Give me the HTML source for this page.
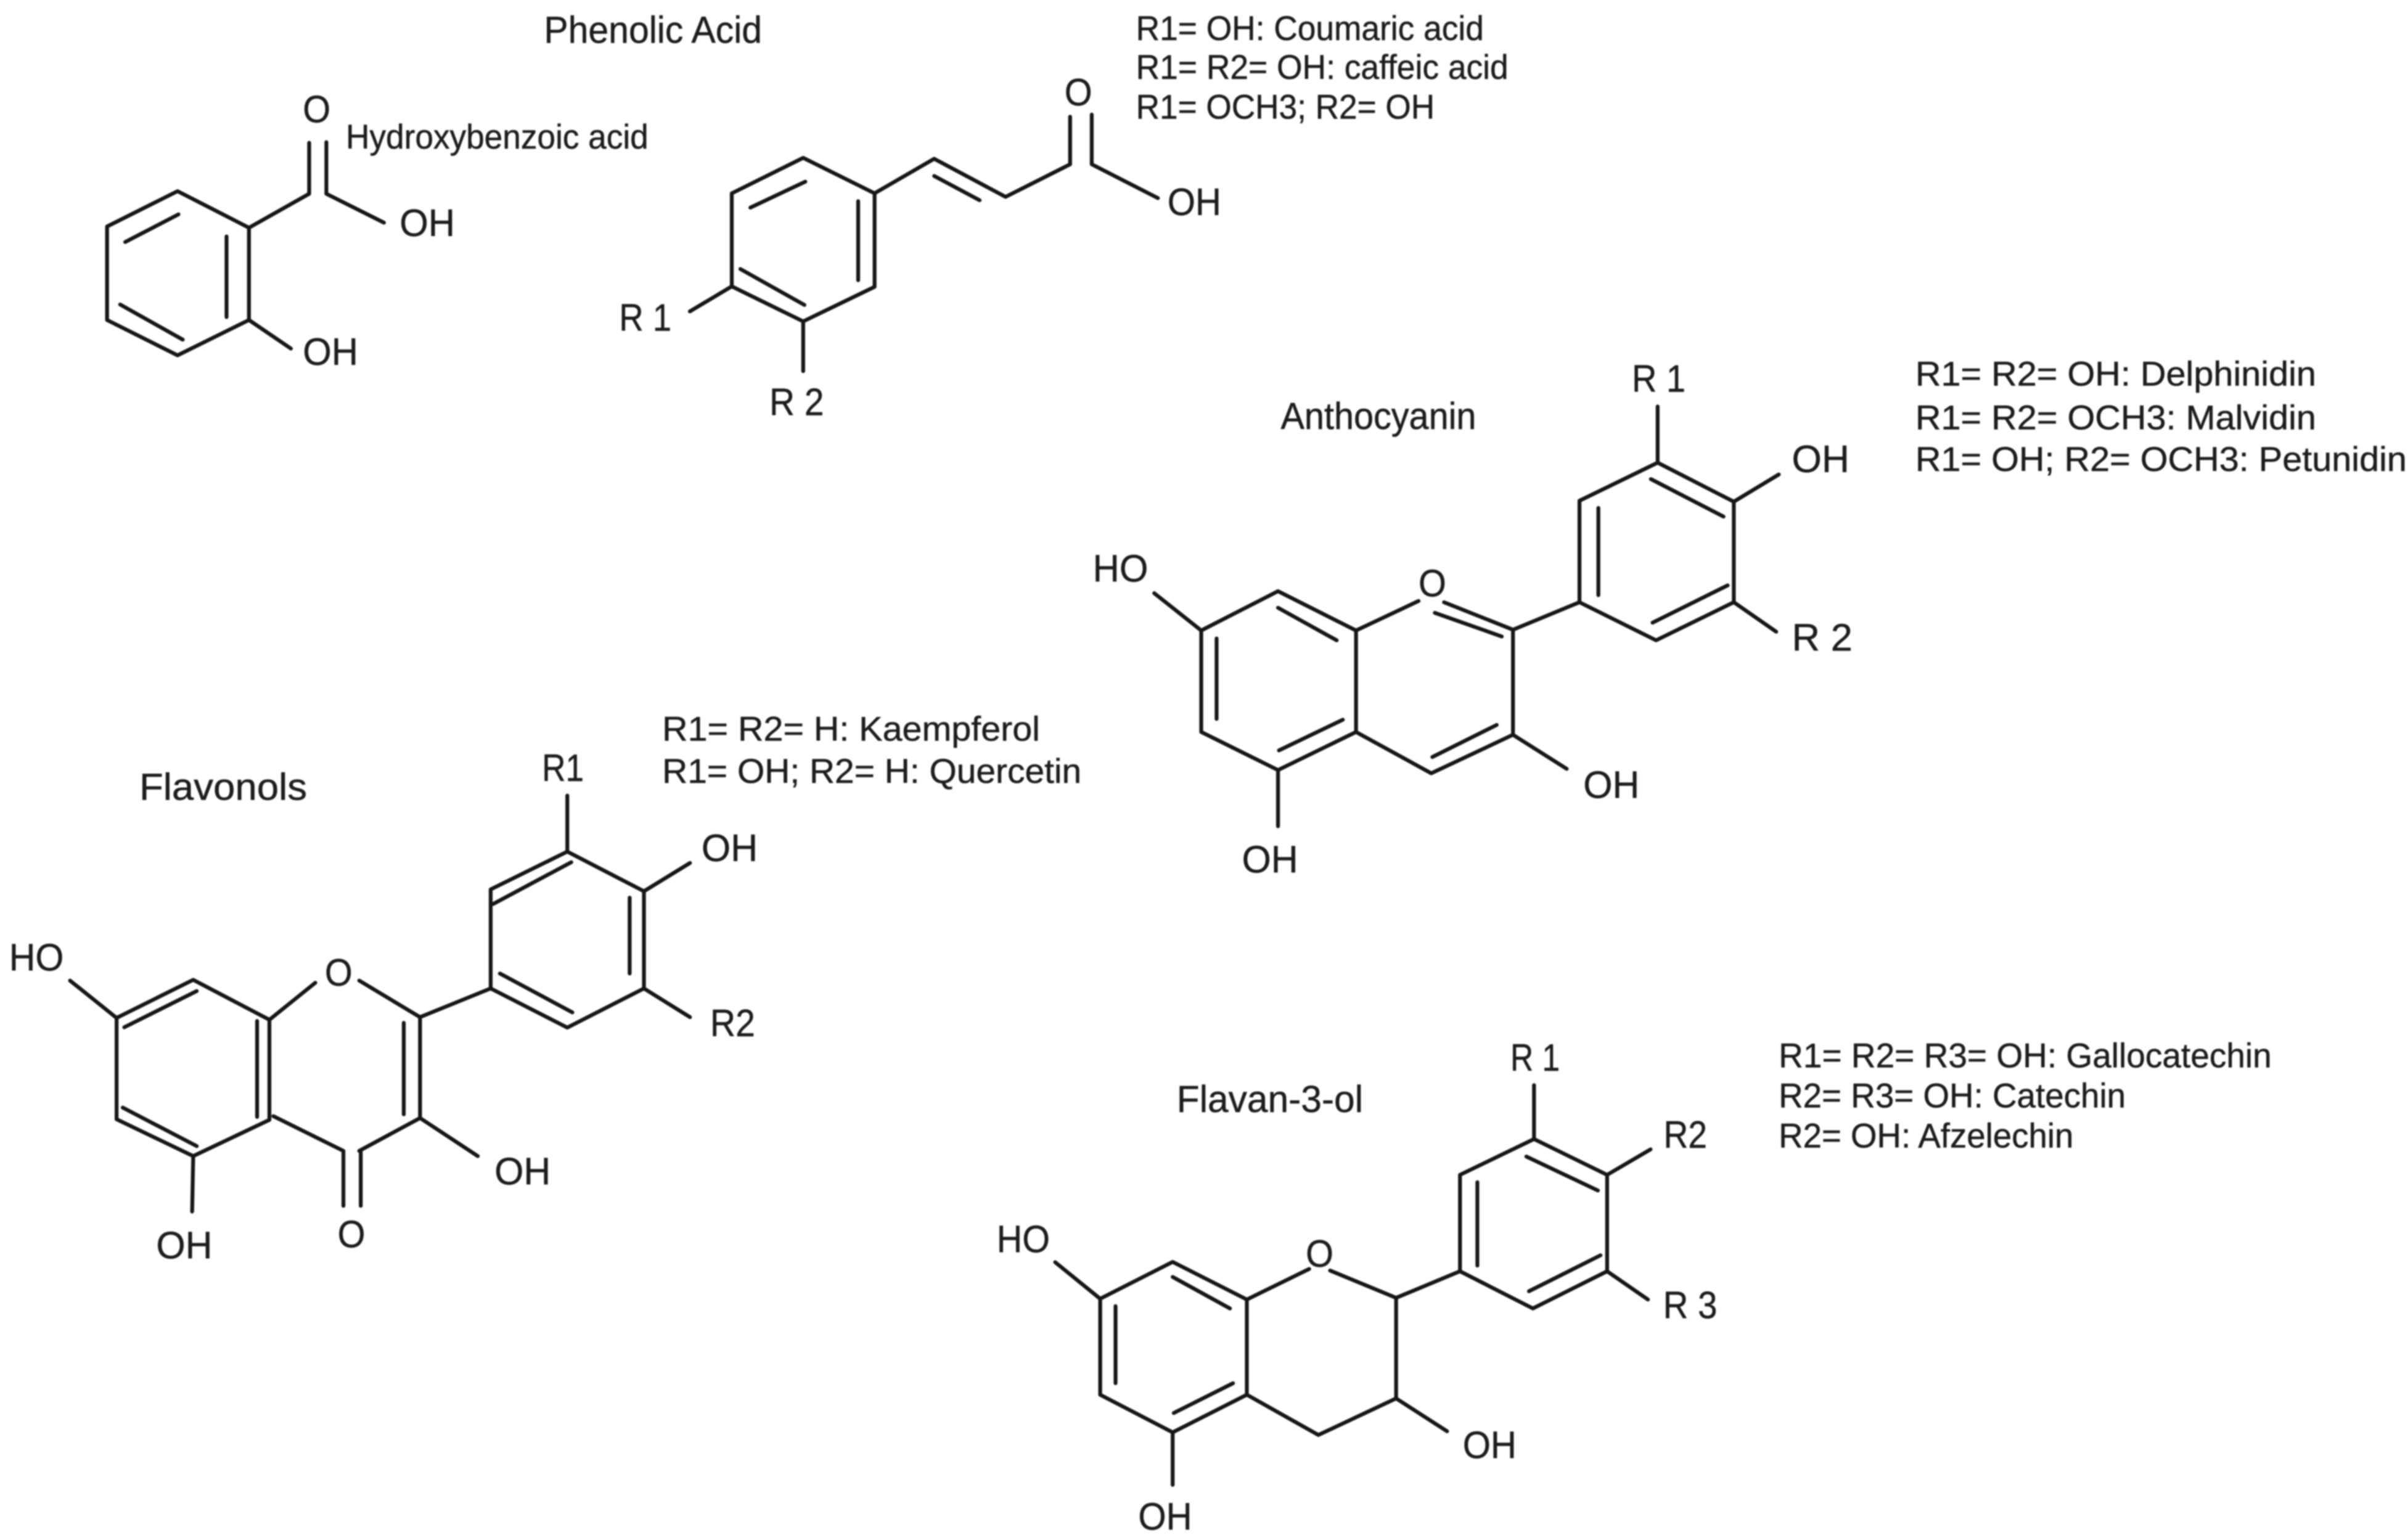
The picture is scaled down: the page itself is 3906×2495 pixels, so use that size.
<!DOCTYPE html>
<html>
<head>
<meta charset="utf-8">
<style>
html,body{margin:0;padding:0;background:#fff;width:3906px;height:2495px;overflow:hidden}
svg{display:block;filter:blur(1.1px)}
.b{fill:none;stroke:#161616;stroke-width:2.5;stroke-linecap:round;stroke-linejoin:round}
text{font-family:"Liberation Sans",Arial,sans-serif;fill:#1c1c1c;font-size:25px;stroke:#1c1c1c;stroke-width:.2;transform:translate(-.8px,.7px)}
.d{font-size:22.5px}
.t{font-size:24.5px}
</style>
</head>
<body>
<svg width="3906" height="2495" viewBox="0 0 1568 1001.6" xmlns="http://www.w3.org/2000/svg">
<rect width="1568" height="1001.6" fill="#fff"/>

<!-- Hydroxybenzoic acid -->
<g class="b">
<polygon points="115.6,124.5 69.7,147.5 69.7,208.4 115.6,231.4 162.1,208.4 162.1,148.3"/>
<path d="M81.5,157.6L116.2,139.6M147.5,154V206.5M78.2,198.3L119,221.2"/>
<path d="M162.1,148.3L201.3,126.2V93M212.5,92.6V126.2L250,145M162.1,208.4L189.4,227"/>
</g>
<text x="355" y="27.3" class="t" textLength="142" lengthAdjust="spacingAndGlyphs">Phenolic Acid</text>
<text x="198" y="79" textLength="18" lengthAdjust="spacingAndGlyphs">O</text>
<text x="226" y="96" class="d" textLength="197" lengthAdjust="spacingAndGlyphs">Hydroxybenzoic acid</text>
<text x="261" y="153" textLength="36" lengthAdjust="spacingAndGlyphs">OH</text>
<text x="198" y="237" textLength="36" lengthAdjust="spacingAndGlyphs">OH</text>

<!-- Hydroxycinnamic acid -->
<g class="b">
<polygon points="523,102.8 476.5,125.9 476.5,186.5 523,209.3 569.5,186.8 569.5,125.9"/>
<path d="M488.6,135.2L524.4,118.3M558.8,131V182.5M482.1,175.2L523.8,198.6"/>
<path d="M569.5,125.9L608.3,103.4L654.8,128.2L696.8,107V76M710.9,74.6V107L754,129M608.3,114.6L637.9,130.4"/>
<path d="M476.5,186.5L449.2,202.8M523,209.3V241.7"/>
</g>
<text x="694" y="68" textLength="18" lengthAdjust="spacingAndGlyphs">O</text>
<text x="761" y="139.4" textLength="35" lengthAdjust="spacingAndGlyphs">OH</text>
<text x="404" y="214.6" textLength="34" lengthAdjust="spacingAndGlyphs">R 1</text>
<text x="501.8" y="269.6" textLength="35.5" lengthAdjust="spacingAndGlyphs">R 2</text>
<text x="740.5" y="25.4" class="d" textLength="226.5" lengthAdjust="spacingAndGlyphs">R1= OH: Coumaric acid</text>
<text x="740.5" y="50.7" class="d" textLength="242.5" lengthAdjust="spacingAndGlyphs">R1= R2= OH: caffeic acid</text>
<text x="740.5" y="76.6" class="d" textLength="194.5" lengthAdjust="spacingAndGlyphs">R1= OCH3; R2= OH</text>

<!-- Anthocyanin -->
<g class="b">
<polygon points="832.2,385 782.2,410.6 782.2,476.7 832.2,501.5 883,476.7 883,410.6"/>
<path d="M832.2,395.8L870.4,417M792.2,415.8V468.2M832.8,488.7L874.4,468.7"/>
<path d="M883,410.6L923.7,391.4M940.3,392.2L985.2,410.1V478.5L932,503.6L883,476.7M934.3,399.1L977.9,414.5M932.7,493L974.6,472.1"/>
<path d="M985.2,478.5L1020.2,500.7M832.2,501.5V538.1M782.2,410.6L751.6,386.3M985.2,410.1L1028.5,392.2"/>
<polygon points="1028.5,392.2 1028.5,326.1 1079.4,301.3 1129,326.7 1129,392.2 1078.4,417"/>
<path d="M1040.8,330.8V387.6M1075,312L1122.3,336.4M1076.1,405.5L1125,381.2"/>
<path d="M1079.4,301.3V264.7M1129,326.7L1158.3,309M1129,392.2L1156.6,411.4"/>
</g>
<text x="1063.4" y="254.5" textLength="35" lengthAdjust="spacingAndGlyphs">R 1</text>
<text x="1167.6" y="306.9" textLength="37.5" lengthAdjust="spacingAndGlyphs">OH</text>
<text x="1167.6" y="423" textLength="39.5" lengthAdjust="spacingAndGlyphs">R 2</text>
<text x="924.5" y="387.6" textLength="18" lengthAdjust="spacingAndGlyphs">O</text>
<text x="712.4" y="378.1" textLength="36" lengthAdjust="spacingAndGlyphs">HO</text>
<text x="1031.8" y="519" textLength="36.6" lengthAdjust="spacingAndGlyphs">OH</text>
<text x="809.5" y="567.6" textLength="36.6" lengthAdjust="spacingAndGlyphs">OH</text>
<text x="834.8" y="278.8" class="t" textLength="127.2" lengthAdjust="spacingAndGlyphs">Anthocyanin</text>
<text x="1248" y="250.5" class="d" textLength="261" lengthAdjust="spacingAndGlyphs">R1= R2= OH: Delphinidin</text>
<text x="1248" y="279" class="d" textLength="261" lengthAdjust="spacingAndGlyphs">R1= R2= OCH3: Malvidin</text>
<text x="1248" y="306" class="d" textLength="320" lengthAdjust="spacingAndGlyphs">R1= OH; R2= OCH3: Petunidin</text>

<!-- Flavonols -->
<g class="b">
<polygon points="125.8,638.1 75.9,662.9 75.9,728.9 125.8,752.9 175.4,729.3 175.4,664.1"/>
<path d="M80.9,669L128.1,645.4M79.9,721.3L128.1,746.4M167.4,664.9V727.4"/>
<path d="M175.4,664.1L205.3,640M233.9,638.6L273.5,662.4V728.1L233.9,749.5M262.9,666.1V725.7M178,726.9L223.6,749.5V785.3M234.9,749.5V785.3"/>
<path d="M273.5,728.1L311.1,752.9M125.8,752.9L125.1,789M75.9,662.9L45.6,638.6M273.5,662.4L319.5,643.7"/>
<polygon points="319.5,643.7 319.5,579.2 369.4,554.6 419.3,580.4 419.3,643.7 369.4,669.2"/>
<path d="M321.1,588.7L372,561.5M410,584.6V634M325.5,634L372.7,659.3"/>
<path d="M369.4,554.6V518.1M419.3,580.4L449.3,562M419.3,643.7L449.3,662.4"/>
</g>
<text x="353.7" y="507.9" textLength="27.3" lengthAdjust="spacingAndGlyphs">R1</text>
<text x="457.6" y="560.2" textLength="36.6" lengthAdjust="spacingAndGlyphs">OH</text>
<text x="463.2" y="674.1" textLength="29.3" lengthAdjust="spacingAndGlyphs">R2</text>
<text x="6.7" y="631.3" textLength="35.6" lengthAdjust="spacingAndGlyphs">HO</text>
<text x="212.3" y="641.3" textLength="18" lengthAdjust="spacingAndGlyphs">O</text>
<text x="322.8" y="770.7" textLength="36.6" lengthAdjust="spacingAndGlyphs">OH</text>
<text x="102.5" y="818.9" textLength="36.6" lengthAdjust="spacingAndGlyphs">OH</text>
<text x="220.6" y="811.6" textLength="18" lengthAdjust="spacingAndGlyphs">O</text>
<text x="91.5" y="520.1" class="t" textLength="109.2" lengthAdjust="spacingAndGlyphs">Flavonols</text>
<text x="432" y="481.7" class="d" textLength="246" lengthAdjust="spacingAndGlyphs">R1= R2= H: Kaempferol</text>
<text x="432" y="509.1" class="d" textLength="273" lengthAdjust="spacingAndGlyphs">R1= OH; R2= H: Quercetin</text>

<!-- Flavan-3-ol -->
<g class="b">
<polygon points="763.6,821.8 716.4,845.8 716.4,908.3 763.6,932.8 811.9,908.3 811.9,846.3"/>
<path d="M763.6,831.6L800.9,852.1M726.4,850.6V900.8M764.3,920.2L802.9,900.8"/>
<path d="M811.9,846.3L852.5,826.4M866.1,827.4L909.1,845.2V910.7L858.5,934.5L811.9,908.3"/>
<path d="M909.1,910.7L942.3,932.1M763.6,932.8V967M716.4,845.8L687.1,822M909.1,845.2L950.7,827.9"/>
<polygon points="950.7,827.9 950.7,765.1 998.9,741.8 1046.5,765.1 1046.5,827.9 998.2,852.1"/>
<path d="M962,769.9V824.2M993.9,753.2L1040.5,775.3M995.6,840.9L1042.2,817.5"/>
<path d="M998.9,741.8V706.7M1046.5,765.1L1074.8,748.5M1046.5,827.9L1073.1,846.3"/>
</g>
<text x="984.3" y="696.6" textLength="32.2" lengthAdjust="spacingAndGlyphs">R 1</text>
<text x="1084.1" y="746.8" textLength="28.3" lengthAdjust="spacingAndGlyphs">R2</text>
<text x="1083.8" y="857.7" textLength="35.2" lengthAdjust="spacingAndGlyphs">R 3</text>
<text x="649.8" y="814.9" textLength="34.6" lengthAdjust="spacingAndGlyphs">HO</text>
<text x="851.1" y="824.2" textLength="18" lengthAdjust="spacingAndGlyphs">O</text>
<text x="953.3" y="949" textLength="35" lengthAdjust="spacingAndGlyphs">OH</text>
<text x="742" y="995.5" textLength="35" lengthAdjust="spacingAndGlyphs">OH</text>
<text x="767" y="723.6" class="t" textLength="121.4" lengthAdjust="spacingAndGlyphs">Flavan-3-ol</text>
<text x="1159" y="694.5" class="d" textLength="321" lengthAdjust="spacingAndGlyphs">R1= R2= R3= OH: Gallocatechin</text>
<text x="1159" y="720.5" class="d" textLength="226" lengthAdjust="spacingAndGlyphs">R2= R3= OH: Catechin</text>
<text x="1159" y="746.5" class="d" textLength="192" lengthAdjust="spacingAndGlyphs">R2= OH: Afzelechin</text>
</svg>
</body>
</html>
